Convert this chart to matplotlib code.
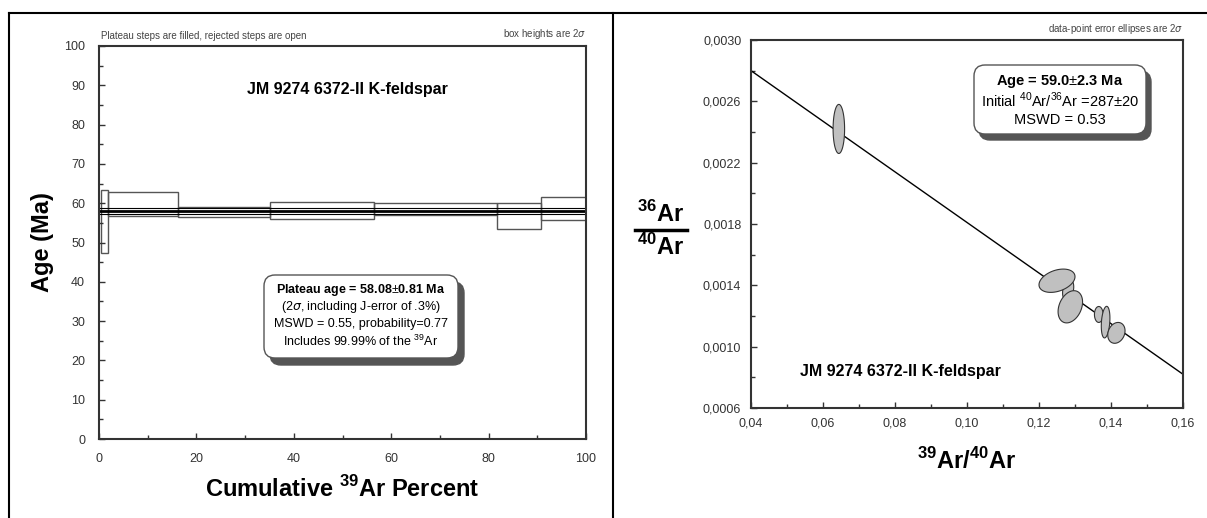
import numpy as np
import matplotlib.pyplot as plt
from matplotlib.patches import FancyBboxPatch, Polygon
from matplotlib.lines import Line2D
from matplotlib.transforms import IdentityTransform
from matplotlib.ticker import MultipleLocator, FixedLocator, FuncFormatter

plt.rcParams["font.family"] = ["Liberation Sans", "DejaVu Sans"]
plt.rcParams["mathtext.fontset"] = "custom"
plt.rcParams["mathtext.rm"] = "Liberation Sans"
plt.rcParams["mathtext.bf"] = "Liberation Sans:bold"

W, H = 1207, 518

# age spectrum steps (cumulative 39Ar %, age in Ma, 2 sigma box)
step_start = [0.4, 1.8, 16.3, 35.1, 56.4, 81.7, 90.7]
step_end = [1.8, 16.3, 35.1, 56.4, 81.7, 90.7, 100.0]
age_lo = [47.4, 56.8, 56.4, 56.0, 57.0, 53.5, 55.6]
age_hi = [63.3, 62.8, 59.0, 60.4, 60.1, 60.0, 61.5]
plateau_age = 58.08
plateau_err = 0.81

# inverse isochron points: 39Ar/40Ar, 36Ar/40Ar, 2s half widths, correlation
iso_x = [0.0644, 0.1281, 0.1250, 0.1287, 0.1366, 0.1385, 0.1415]
iso_y = [0.00242, 0.00137, 0.00143, 0.00126, 0.00121, 0.00116, 0.00109]
iso_ex = [0.0016, 0.00155, 0.0050, 0.0034, 0.0012, 0.0012, 0.0024]
iso_ey = [0.00016, 0.000067, 0.000076, 0.000105, 0.000052, 0.000103, 0.000068]
iso_rho = [0.0, 0.3, 0.35, 0.3, 0.0, 0.25, 0.2]
trend_x = [0.04, 0.16]
trend_y = [0.00280, 0.00082]
iso_yticks = [0.0006, 0.0010, 0.0014, 0.0018, 0.0022, 0.0026, 0.0030]


def fx(px):
    return px / W


def fy(py):
    return 1 - py / H


def shadow_box(fig, x0, y0, x1, y1, dx=6, dy=7):
    # pixel coords of the picture (y down)
    for off, fc in [((dx, dy), "#555555"), ((0, 0), "white")]:
        p = FancyBboxPatch((x0 + off[0], H - y1 - off[1]), x1 - x0, y1 - y0,
                           boxstyle="round,pad=0,rounding_size=11",
                           transform=IdentityTransform(), facecolor=fc,
                           edgecolor="#555555", linewidth=1)
        fig.add_artist(p)


fig = plt.figure(figsize=(W / 100, H / 100), dpi=100)

ax1 = fig.add_axes([fx(99), fy(439), fx(586) - fx(99), fy(46) - fy(439)])
ax2 = fig.add_axes([fx(751), fy(408), fx(1183) - fx(751), fy(40) - fy(408)])

for ax in (ax1, ax2):
    for s in ax.spines.values():
        s.set_linewidth(1.5)
        s.set_color("#333333")
    ax.tick_params(which="both", direction="in", width=1, colors="#333333",
                   top=False, right=False)
    ax.tick_params(which="major", length=4)
    ax.tick_params(which="minor", length=3)

# ---- age spectrum
ax1.bar(step_start, np.array(age_hi) - np.array(age_lo),
        width=np.array(step_end) - np.array(step_start), bottom=age_lo,
        align="edge", fill=False, edgecolor="#555555", linewidth=1)
ax1.axhline(plateau_age, color="black", lw=2)
ax1.axhline(plateau_age + plateau_err, color="black", lw=0.8)
ax1.axhline(plateau_age - plateau_err, color="black", lw=0.8)

ax1.set_xlim(0, 100)
ax1.set_ylim(0, 100)
ax1.xaxis.set_major_locator(MultipleLocator(20))
ax1.xaxis.set_minor_locator(MultipleLocator(10))
ax1.yaxis.set_major_locator(MultipleLocator(10))
ax1.yaxis.set_minor_locator(MultipleLocator(5))
ax1.tick_params(axis="both", labelsize=9, pad=10, labelcolor="#333333")
ax1.set_xlabel(r"Cumulative $^{\mathbf{39}}$Ar Percent", fontsize=17,
               fontweight="bold", labelpad=8)
ax1.set_ylabel("Age (Ma)", fontsize=17, fontweight="bold", labelpad=7)

ax1.text(51, 89, "JM 9274 6372-II K-feldspar", ha="center", va="center",
         fontsize=11.5, fontweight="bold")
ax1.text(0.005, 1.012, "Plateau steps are filled, rejected steps are open",
         transform=ax1.transAxes, fontsize=7, color="#444444", va="bottom")
ax1.text(1.0, 1.012, r"box heights are 2$\sigma$", transform=ax1.transAxes,
         fontsize=7, color="#444444", va="bottom", ha="right")

shadow_box(fig, 264, 275, 458, 358)
left_lines = [r"Plateau age = 58.08$\pm$0.81 Ma",
              r"(2$\sigma$, including J-error of .3%)",
              "MSWD = 0.55, probability=0.77",
              r"Includes 99.99% of the $^{39}$Ar"]
for i, t in enumerate(left_lines):
    fig.text(fx(361), fy(290 + 17 * i), t, ha="center", va="center",
             fontsize=9, fontweight="bold" if i == 0 else "normal")

# ---- inverse isochron
ax2.plot(trend_x, trend_y, color="black", lw=1, zorder=2)
tt = np.linspace(0, 2 * np.pi, 100)
for cx, cy, ex, ey, r in zip(iso_x, iso_y, iso_ex, iso_ey, iso_rho):
    px = cx + ex * np.cos(tt)
    py = cy + ey * (r * np.cos(tt) + np.sqrt(1 - r * r) * np.sin(tt))
    ax2.add_patch(Polygon(np.column_stack([px, py]), closed=True,
                          facecolor="#c0c0c0", edgecolor="#333333",
                          linewidth=0.8, zorder=3))

ax2.set_xlim(0.04, 0.16)
ax2.set_ylim(0.0006, 0.0030)
ax2.xaxis.set_major_locator(MultipleLocator(0.02))
ax2.xaxis.set_minor_locator(MultipleLocator(0.01))
ax2.yaxis.set_major_locator(FixedLocator(iso_yticks))
ax2.yaxis.set_minor_locator(MultipleLocator(0.0002))
ax2.xaxis.set_major_formatter(FuncFormatter(lambda v, p: f"{v:.2f}".replace(".", ",")))
ax2.yaxis.set_major_formatter(FuncFormatter(lambda v, p: f"{v:.4f}".replace(".", ",")))
ax2.tick_params(axis="both", labelsize=9, pad=7, labelcolor="#333333")
ax2.set_xlabel(r"$^{\mathbf{39}}$Ar/$^{\mathbf{40}}$Ar", fontsize=17,
               fontweight="bold", labelpad=13)

ax2.text(0.0536, 0.00084, "JM 9274 6372-II K-feldspar", ha="left", va="center",
         fontsize=11.5, fontweight="bold")
ax2.text(1.0, 1.012, r"data-point error ellipses are 2$\sigma$",
         transform=ax2.transAxes, fontsize=7, color="#444444", va="bottom",
         ha="right")

shadow_box(fig, 974, 65, 1146, 134, dx=5, dy=6)
right_lines = [r"Age = 59.0$\pm$2.3 Ma",
               r"Initial $^{40}$Ar/$^{36}$Ar =287$\pm$20",
               "MSWD = 0.53"]
for i, t in enumerate(right_lines):
    fig.text(fx(1060), fy(81 + 19.5 * i), t, ha="center", va="center",
             fontsize=10.5, fontweight="bold" if i == 0 else "normal")

# fraction style y label
fig.text(fx(661), fy(227), r"$^{\mathbf{36}}$Ar", ha="center", va="bottom",
         fontsize=17, fontweight="bold")
fig.text(fx(661), fy(234), r"$^{\mathbf{40}}$Ar", ha="center", va="top",
         fontsize=17, fontweight="bold")
fig.add_artist(Line2D([fx(635), fx(687)], [fy(230), fy(230)], color="black", lw=2.5))

# page frame
fig.add_artist(Line2D([fx(9), fx(9)], [0, fy(13)], color="black", lw=1.5))
fig.add_artist(Line2D([fx(9), 1], [fy(13), fy(13)], color="black", lw=1.5))
fig.add_artist(Line2D([fx(613), fx(613)], [0, fy(13)], color="black", lw=1.5))

fig.savefig("out.png", dpi=100)
